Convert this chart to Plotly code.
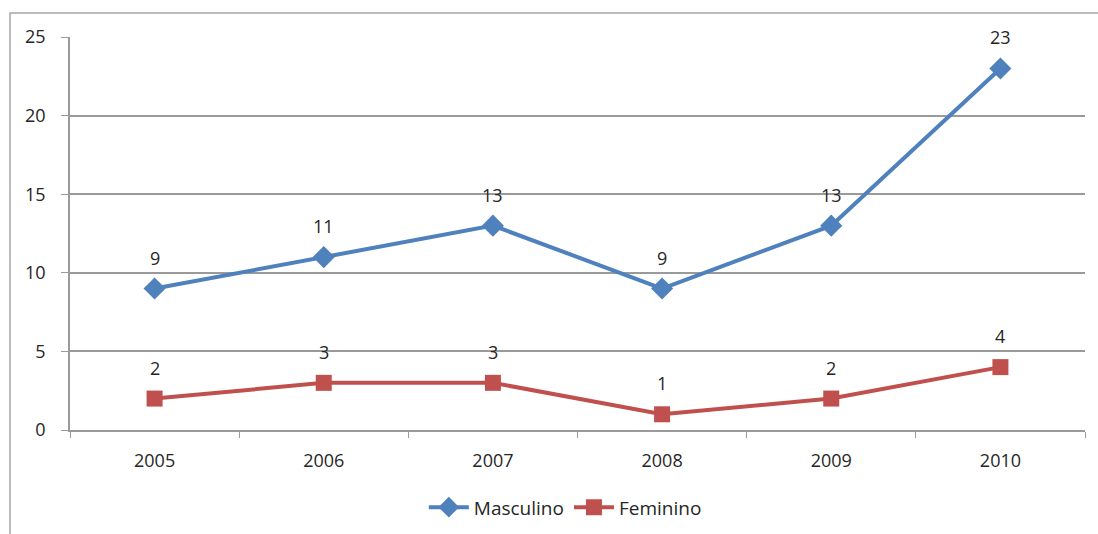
import plotly.graph_objects as go

years = ["2005", "2006", "2007", "2008", "2009", "2010"]
masculino = [9, 11, 13, 9, 13, 23]
feminino = [2, 3, 3, 1, 2, 4]

BLUE = "#4F81BD"
RED = "#C0504D"
FONT = "Open Sans"
TXT = "#262626"
GRID = "#9A9A9A"

fig = go.Figure()
fig.add_trace(go.Scatter(x=years, y=masculino, name="Masculino", mode="lines+markers",
                         line=dict(color=BLUE, width=4),
                         marker=dict(symbol="diamond", size=17, color=BLUE)))
fig.add_trace(go.Scatter(x=years, y=feminino, name="Feminino", mode="lines+markers",
                         line=dict(color=RED, width=4),
                         marker=dict(symbol="square", size=16, color=RED)))

for series in (masculino, feminino):
    for i, yv in enumerate(series):
        fig.add_annotation(x=i, y=yv, text=str(yv), showarrow=False, yshift=31,
                           font=dict(family=FONT, size=18, color=TXT))

# outer chart frame (left and top edges)
fig.add_shape(type="path", xref="paper", yref="paper",
              path="M -0.0591 -0.32 L -0.0591 1.0611 L 1.02 1.0611",
              line=dict(color="#A6A6A6", width=1.5))

fig.update_layout(
    width=1098, height=534,
    margin=dict(l=70, r=13, t=37, b=104, autoexpand=False),
    paper_bgcolor="white", plot_bgcolor="white",
    font=dict(family=FONT, size=18, color=TXT),
    showlegend=True,
    legend=dict(orientation="h", x=0.488, xanchor="center", yref="container", y=0.05,
                yanchor="middle", font=dict(family=FONT, size=19, color=TXT), itemwidth=40),
)
fig.update_xaxes(type="category", range=[-0.5, 5.5], tickson="boundaries", ticks="outside",
                 ticklen=6, tickcolor=GRID, showgrid=False, showline=True,
                 linecolor=GRID, linewidth=1.5, tickfont=dict(size=18), tickangle=0,
                 ticklabelstandoff=14, automargin=False)
fig.update_yaxes(range=[0, 25], dtick=5, ticks="outside", ticklen=7, tickcolor=GRID,
                 showgrid=True, gridcolor=GRID, gridwidth=1.5, showline=True,
                 linecolor=GRID, linewidth=1.5, zeroline=False, tickfont=dict(size=18),
                 ticklabelstandoff=12, automargin=False)

fig.write_html("out.html")
